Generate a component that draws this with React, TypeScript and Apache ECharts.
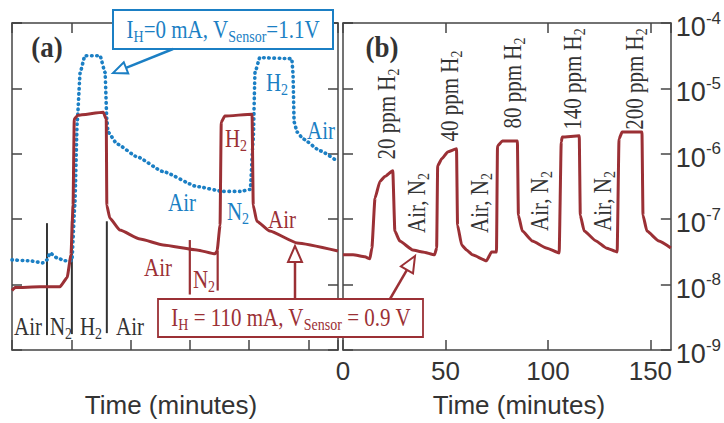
import React, { useEffect, useRef } from 'react';
import * as echarts from 'echarts';

const SERIF = '"Liberation Serif", "Times New Roman", serif';
const SANS = '"Liberation Sans", Arial, sans-serif';
const RED = '#9b3035';
const BLUE = '#1b7fc4';
const INK = '#333333';
const AXIS = '#444444';

// ---- Panel (a): heater current 110 mA (solid red) ----
const redATime = [0, 0.5, 4.7, 8.1, 9.3, 9.95, 10.3, 10.5, 11.1, 15.4, 15.9, 16.0, 16.5, 18.2, 21.6, 25.5, 31.2, 34.25, 34.6, 35.1, 35.3, 35.9, 40.5, 40.7, 41.3, 43.5, 48.1, 55];
const redAValue = [8.1e-9, 9.0e-9, 9.3e-9, 9.3e-9, 1.28e-8, 2.85e-8, 1.63e-7, 3.39e-6, 3.9e-6, 4.33e-6, 3.39e-6, 1.63e-7, 1.04e-7, 6.81e-8, 4.97e-8, 4.04e-8, 3.39e-8, 2.95e-8, 3.27e-8, 8.11e-8, 3.05e-6, 3.77e-6, 4.04e-6, 1.63e-7, 9.33e-8, 6.58e-8, 4.33e-8, 3.27e-8];

// ---- Panel (a): heater current 0 mA (dotted blue) ----
const blueATime = [0, 3.0, 5.2, 5.9, 6.4, 7.6, 8.9, 10.1, 10.6, 11.0, 11.5, 12.3, 14.85, 15.7, 16.0, 16.2, 17.7, 21.1, 25.5, 31.2, 35.6, 38.5, 40.2, 40.7, 41.0, 41.8, 47.2, 47.4, 47.6, 48.1, 49.1, 52.0, 55];
const blueAValue = [2.39e-8, 2.31e-8, 2.15e-8, 2.39e-8, 3.05e-8, 2.56e-8, 2.31e-8, 2.31e-8, 1.63e-7, 3.05e-6, 1.75e-5, 3.16e-5, 3.16e-5, 1.75e-5, 3.39e-6, 2.15e-6, 1.42e-6, 9.0e-7, 5.34e-7, 3.16e-7, 2.66e-7, 2.66e-7, 2.85e-7, 1.69e-6, 1.75e-5, 2.95e-5, 2.85e-5, 1.75e-5, 3.05e-6, 2.15e-6, 1.69e-6, 1.11e-6, 7.57e-7];

// ---- Panel (b): H2 concentration steps (solid red) ----
const redBTime = [0, 4.9, 10.7, 13.1, 14.1, 15.6, 18.0, 20.4, 24.3, 25.3, 27.7, 34.0, 38.9, 44.7, 45.7, 46.2, 48.2, 51.1, 55.4, 55.9, 57.9, 60.3, 63.2, 70.0, 72.5, 74.9, 75.4, 77.8, 85.1, 85.6, 87.5, 92.4, 99.2, 105.5, 106.5, 107.0, 115.3, 115.8, 117.7, 123.5, 128.4, 133.8, 134.7, 136.2, 145.9, 146.4, 148.3, 154.2, 160];
const redBValue = [2.85e-8, 2.85e-8, 2.66e-8, 2.48e-8, 3.64e-8, 2.08e-7, 3.77e-7, 4.49e-7, 5.52e-7, 6.58e-8, 4.64e-8, 3.39e-8, 3.16e-8, 2.85e-8, 3.64e-8, 6.58e-7, 8.4e-7, 1.07e-6, 1.19e-6, 8.11e-8, 4.04e-8, 3.39e-8, 2.85e-8, 2.31e-8, 3.16e-8, 3.16e-8, 1.32e-6, 1.57e-6, 1.57e-6, 1.15e-7, 6.58e-8, 4.64e-8, 3.64e-8, 3.05e-8, 1.52e-6, 1.81e-6, 1.88e-6, 1.15e-7, 6.58e-8, 4.64e-8, 3.64e-8, 3.16e-8, 1.69e-6, 2.15e-6, 2.15e-6, 1.15e-7, 6.58e-8, 4.64e-8, 3.64e-8];

// gas-phase separators in panel (a)
const gasSepTime = [5.9, 10.1, 16.0];
const gasSepTop = [8.7e-8, 9.3e-8, 9.3e-8];
const gasSepBottom = [1.69e-9, 1.75e-9, 1.81e-9];
const redSepTime = [30.0, 34.7];
const redSepTop = [4.8e-8, 3.3e-8];
const redSepBottom = [7.05e-9, 8.1e-9];

// axes
const aTimeMax = 55;
const aTimeInterval = 10;
const bTimeMax = 160;
const bTimeInterval = 50;
const yMin = 1e-9;
const yMax = 1e-4;

const zip = (a: number[], b: number[]) => a.map((v, i) => [v, b[i]]);

function arrow(tail: number[], tip: number[], color: string, len: number, half: number) {
  const dx = tail[0] - tip[0];
  const dy = tail[1] - tip[1];
  const L = Math.hypot(dx, dy);
  const ux = dx / L, uy = dy / L;
  const bx = tip[0] + ux * len, by = tip[1] + uy * len;
  const px = -uy, py = ux;
  return [
    { type: 'line', z: 110, shape: { x1: tail[0], y1: tail[1], x2: bx, y2: by }, style: { stroke: color, lineWidth: 2.5 } },
    {
      type: 'polygon', z: 111,
      shape: { points: [[tip[0], tip[1]], [bx + px * half, by + py * half], [bx - px * half, by - py * half]] },
      style: { fill: '#ffffff', stroke: color, lineWidth: 2 },
    },
  ];
}

const SUBRICH = (color: string, size = 21) => ({
  m: { fontFamily: SERIF, fontSize: size, fill: color, color },
  s: { fontFamily: SERIF, fontSize: Math.round(size * 0.67), fill: color, color, padding: [11, 0, 0, 0] },
});

function label(text: string, x: number, y: number, color: string, opts: any = {}) {
  return {
    type: 'text', z: 120, x, y,
    rotation: opts.rotation || 0,
    scaleY: opts.scaleY ?? 1.18,
    style: {
      text, align: 'center', verticalAlign: 'middle',
      fontFamily: SERIF, fontSize: opts.size || 21, fill: color,
      rich: SUBRICH(color, opts.size || 21),
    },
  };
}

export default function App() {
  const ref = useRef<HTMLDivElement>(null);
  useEffect(() => {
    if (!ref.current) return;
    const chart = echarts.init(ref.current, undefined, { renderer: 'svg' });

    const tick = { show: true, inside: true, length: 10, lineStyle: { color: AXIS, width: 1.5 } };
    const line = { show: true, onZero: false, lineStyle: { color: AXIS, width: 1.5 } };

    const xAxes: any[] = [];
    const yAxes: any[] = [];
    [0, 1].forEach((g) => {
      const max = g === 0 ? aTimeMax : bTimeMax;
      const interval = g === 0 ? aTimeInterval : bTimeInterval;
      ['bottom', 'top'].forEach((pos) => {
        const showLabel = g === 1 && pos === 'bottom';
        xAxes.push({
          type: 'value', gridIndex: g, position: pos, min: 0, max, interval,
          axisLine: line, axisTick: tick, splitLine: { show: false },
          axisLabel: showLabel
            ? { show: true, fontFamily: SANS, fontSize: 26, color: INK, margin: 8, showMaxLabel: false, hideOverlap: false }
            : { show: false },
          name: pos === 'bottom' ? 'Time (minutes)' : '',
          nameLocation: 'middle',
          nameGap: 42,
          nameTextStyle: {
            fontFamily: SANS, fontSize: 26, color: INK,
            padding: g === 0 ? [0, 8, 0, 0] : [0, 0, 0, 24],
          },
        });
      });
      ['left', 'right'].forEach((pos) => {
        const showLabel = g === 1 && pos === 'right';
        yAxes.push({
          type: 'log', logBase: 10, gridIndex: g, position: pos, min: yMin, max: yMax,
          axisLine: line, axisTick: tick, splitLine: { show: false }, minorTick: { show: false },
          axisLabel: showLabel
            ? {
                show: true, margin: 5, hideOverlap: false,
                formatter: (v: number) => '{b|10}{s|' + Math.round(Math.log10(v)) + '}',
                rich: {
                  b: { fontFamily: SANS, fontSize: 27, color: INK, padding: [8, 0, 0, 0] },
                  s: { fontFamily: SANS, fontSize: 17, color: INK, padding: [0, 0, 10, 0] },
                },
              }
            : { show: false },
        });
      });
    });

    const curve = { showSymbol: false, symbol: 'none', smooth: 0.15, smoothMonotone: 'x' };
    const series: any[] = [
      {
        type: 'line', xAxisIndex: 0, yAxisIndex: 0, data: zip(blueATime, blueAValue), ...curve,
        lineStyle: { color: BLUE, width: 3.6, type: [0.5, 4.6], cap: 'round' }, z: 3,
      },
      {
        type: 'line', xAxisIndex: 0, yAxisIndex: 0, data: zip(redATime, redAValue), ...curve,
        lineStyle: { color: RED, width: 3, join: 'round' }, z: 4,
      },
      {
        type: 'line', xAxisIndex: 2, yAxisIndex: 2, data: zip(redBTime, redBValue), ...curve,
        lineStyle: { color: RED, width: 3, join: 'round' }, z: 4,
      },
    ];
    gasSepTime.forEach((t, i) => {
      series.push({
        type: 'line', xAxisIndex: 0, yAxisIndex: 0, data: [[t, gasSepTop[i]], [t, gasSepBottom[i]]],
        showSymbol: false, symbol: 'none', lineStyle: { color: INK, width: 2 }, z: 2,
      });
    });
    redSepTime.forEach((t, i) => {
      series.push({
        type: 'line', xAxisIndex: 0, yAxisIndex: 0, data: [[t, redSepTop[i]], [t, redSepBottom[i]]],
        showSymbol: false, symbol: 'none', lineStyle: { color: RED, width: 2.2 }, z: 2,
      });
    });

    const graphic: any[] = [
      // panel tags
      { type: 'text', z: 120, x: 47, y: 47, scaleY: 1.1, style: { text: '(a)', align: 'center', verticalAlign: 'middle', fontFamily: SERIF, fontSize: 27, fontWeight: 'bold', fill: INK } },
      { type: 'text', z: 120, x: 382, y: 47, scaleY: 1.1, style: { text: '(b)', align: 'center', verticalAlign: 'middle', fontFamily: SERIF, fontSize: 27, fontWeight: 'bold', fill: INK } },
      // gas labels bottom of panel (a)
      label('{m|Air}', 28, 327, INK),
      label('{m|N}{s|2}', 61, 327, INK),
      label('{m|H}{s|2}', 91, 327, INK),
      label('{m|Air}', 130, 327, INK),
      // red labels panel (a)
      label('{m|Air}', 158, 268, RED),
      label('{m|N}{s|2}', 204, 280, RED),
      label('{m|H}{s|2}', 236, 139, RED),
      label('{m|Air}', 282, 220, RED),
      // blue labels panel (a)
      label('{m|Air}', 182, 203, BLUE),
      label('{m|N}{s|2}', 238, 212, BLUE),
      label('{m|H}{s|2}', 277, 83, BLUE),
      label('{m|Air}', 321, 131, BLUE),
      // blue annotation
      { type: 'rect', z: 105, shape: { x: 113, y: 10, width: 220, height: 39 }, style: { fill: '#ffffff', stroke: BLUE, lineWidth: 2 } },
      label('{m|I}{s|H}{m|=0 mA, V}{s|Sensor}{m|=1.1V}', 223, 30, BLUE),
      ...arrow([173, 49], [113, 73], BLUE, 14, 6),
      // red annotation
      { type: 'rect', z: 105, shape: { x: 158, y: 299, width: 265, height: 38 }, style: { fill: '#ffffff', stroke: RED, lineWidth: 1.8 } },
      label('{m|I}{s|H}{m| = 110 mA, V}{s|Sensor}{m| = 0.9 V}', 291, 318, RED),
      ...arrow([295, 299], [295, 246], RED, 16, 7),
      ...arrow([390, 299], [415, 256], RED, 16, 7),
      // panel (b) rotated labels
      label('{m|20 ppm H}{s|2}', 387, 114, INK, { rotation: Math.PI / 2 }),
      label('{m|40 ppm H}{s|2}', 450, 96, INK, { rotation: Math.PI / 2 }),
      label('{m|80 ppm H}{s|2}', 513, 83, INK, { rotation: Math.PI / 2 }),
      label('{m|140 ppm H}{s|2}', 573, 79, INK, { rotation: Math.PI / 2 }),
      label('{m|200 ppm H}{s|2}', 635, 79, INK, { rotation: Math.PI / 2 }),
      label('{m|Air, N}{s|2}', 417, 203, INK, { rotation: Math.PI / 2 }),
      label('{m|Air, N}{s|2}', 480, 203, INK, { rotation: Math.PI / 2 }),
      label('{m|Air, N}{s|2}', 540, 201, INK, { rotation: Math.PI / 2 }),
      label('{m|Air, N}{s|2}', 603, 201, INK, { rotation: Math.PI / 2 }),
    ];

    chart.setOption({
      animation: false,
      backgroundColor: '#ffffff',
      grid: [
        { left: 12, top: 23, width: 326, height: 330 },
        { left: 343, top: 23, width: 329, height: 330 },
      ],
      xAxis: xAxes,
      yAxis: yAxes,
      series,
      graphic,
    });
    return () => chart.dispose();
  }, []);
  return <div ref={ref} style={{ position: 'fixed', left: 0, top: 0, width: 724, height: 423, background: '#fff' }} />;
}
